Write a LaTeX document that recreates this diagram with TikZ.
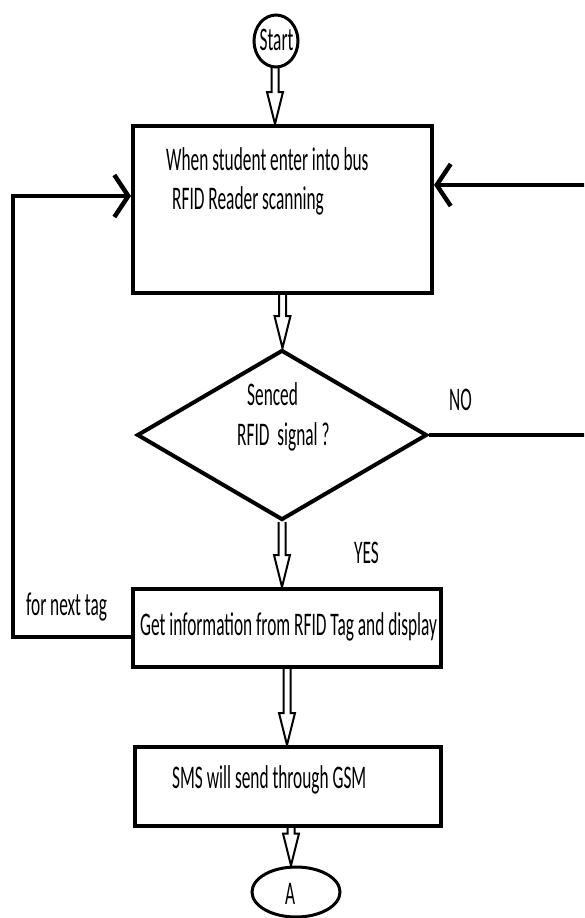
\documentclass[tikz,border=0pt]{standalone}
\usepackage{fontspec}
\setmainfont{Carlito}[FakeStretch=0.525]
\usetikzlibrary{shapes.geometric, arrows.meta, calc}
\tikzset{
  lbl/.style={font=\fontsize{33}{38}\selectfont, inner sep=0pt, anchor=base west},
  boxnode/.style={draw, line width=4pt, rectangle, inner sep=0pt},
  dbl/.style={draw, line width=2pt, to path={
    let \p1=(\tikztostart), \p2=(\tikztotarget) in
    (\x1-3.5pt,\y1) -- (\x1-3.5pt,\y2+32pt) -- (\x1-8pt,\y2+32pt) -- (\x1,\y2)
    -- (\x1+8pt,\y2+32pt) -- (\x1+3.5pt,\y2+32pt) -- (\x1+3.5pt,\y1)}},
  fb/.style={line width=4.5pt, -{Straight Barb[length=14pt, width=42pt]}},
}
\begin{document}
\begin{tikzpicture}[x=1pt, y=-1pt]
\path[use as bounding box, clip] (0,0) rectangle (584,918);
% shapes
\node[boxnode, ellipse, line width=3pt, minimum width=44pt, minimum height=52pt] (start) at (276,41) {};
\node[boxnode, minimum width=299pt, minimum height=167pt] (box1) at (282.5,209.5) {};
\node[boxnode, diamond, minimum width=290pt, minimum height=170pt] (d) at (282,435) {};
\node[boxnode, minimum width=308pt, minimum height=78pt] (box2) at (287,628) {};
\node[boxnode, minimum width=306pt, minimum height=79pt] (box3) at (288,786.5) {};
\node[boxnode, ellipse, line width=3pt, minimum width=88pt, minimum height=50pt] (A) at (296,892) {};
% texts
\node[lbl, anchor=base] (tstart) at (276.5,50) {Start};
\node[lbl] (t1) at (166,170) {When student enter into bus};
\node[lbl] (t2) at (172,209) {RFID Reader scanning};
\node[lbl] (t3) at (247,405) {Senced};
\node[lbl] (t4) at (237,445) {RFID~ signal ?};
\node[lbl] (tno) at (449,410) {NO};
\node[lbl] (tyes) at (354,563) {YES};
\node[lbl] (t5) at (140,635) {Get information from RFID Tag and display};
\node[lbl] (tnext) at (26,615) {for next tag};
\node[lbl] (t6) at (172,788) {SMS will send through GSM};
\node[lbl] (tA) at (285,904) {A};
% double arrows
\coordinate (a1) at (275,67);
\draw[dbl] (a1) to (a1 |- box1.north);
\draw[dbl] (box1.south) to (d.north);
\draw[dbl] (d.south) to (d.south |- box2.north);
\draw[dbl] (box2.south) to (box2.south |- box3.north);
\coordinate (a5) at (291,826);
\draw[dbl] (a5) to (a5 |- A.north);
% loops
\draw[fb] ($(box2.west)+(0,9)$) -| (13,196) -- ($(box1.west)+(0,-13.5)$);
\draw[fb] (d.east) -- (600,435) |- ($(box1.east)+(0,-24.5)$);
\end{tikzpicture}
\end{document}
